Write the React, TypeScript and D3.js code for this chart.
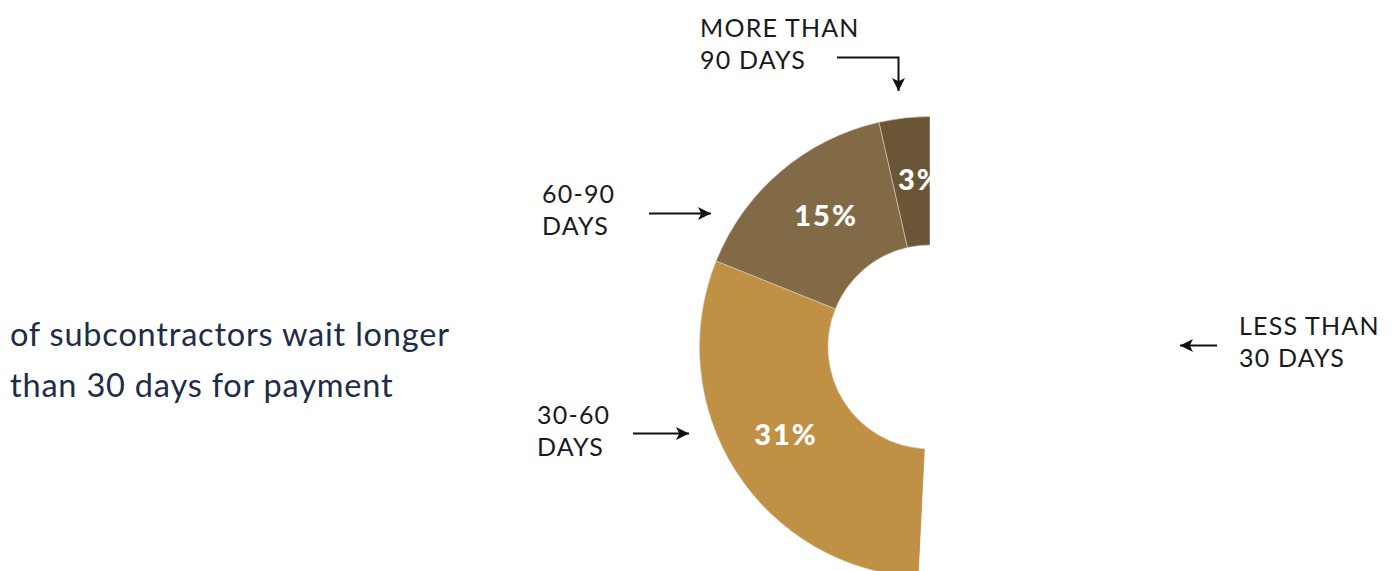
import React from "react";
import * as d3 from "d3";

// ---- data ----
const categories = ["MORE THAN 90 DAYS", "60-90 DAYS", "30-60 DAYS", "LESS THAN 30 DAYS"];
const categoryLines = [["MORE THAN", "90 DAYS"], ["60-90", "DAYS"], ["30-60", "DAYS"], ["LESS THAN", "30 DAYS"]];
// arc shares as drawn in the picture (in percent)
const shares = [3.56, 15.36, 30.3, 50.78];
const valueLabels = ["3%", "15%", "31%", ""];
const sideText = ["of subcontractors wait longer", "than 30 days for payment"];

// ---- styles / layout ----
const W = 1397;
const H = 571;
const colors = ["#6a5537", "#836a47", "#c09045", "#ffffff"];
const cx = 930;
const cy = 347;
const outerR = 230.5;
const innerR = 102;
const font = "Lato, 'Noto Sans', sans-serif";

// label layout: text origin, arrow path (start -> end)
const labelLayout = [
  { x: 700, y: 37, arrow: [[837, 57.5], [898.5, 57.5], [898.5, 91]] },
  { x: 542, y: 203, arrow: [[649, 213.5], [711, 213.5]] },
  { x: 537, y: 424, arrow: [[633, 433.5], [689, 433.5]] },
  { x: 1239, y: 335, arrow: [[1217, 345.5], [1180, 345.5]] },
];

export default function App() {
  const pie = d3
    .pie<number>()
    .sort(null)
    .value((d) => d)
    .startAngle(0)
    .endAngle(-2 * Math.PI);
  const arcs = pie(shares);
  const arc = d3.arc<d3.PieArcDatum<number>>().innerRadius(innerR).outerRadius(outerR);
  const line = d3.line();

  return (
    <div style={{ position: "fixed", left: 0, top: 0, width: W, height: H, background: "#fff" }}>
      <svg width={W} height={H} viewBox={`0 0 ${W} ${H}`} style={{ display: "block" }}>
        <defs>
          <clipPath id="leftHalf">
            <rect x={0} y={0} width={cx + 0.5} height={H} />
          </clipPath>
          <marker
            id="head"
            viewBox="0 0 10 10"
            refX={10}
            refY={5}
            markerWidth={17}
            markerHeight={13}
            markerUnits="userSpaceOnUse"
            orient="auto"
          >
            <path d="M0,0 L10,5 L0,10 L2.5,5 z" fill="#111" />
          </marker>
        </defs>

        <g clipPath="url(#leftHalf)">
          <g transform={`translate(${cx},${cy})`}>
            {arcs.map((a, i) => (
              <path
                key={categories[i]}
                d={arc(a) || ""}
                fill={colors[i]}
                stroke="#d9cfc0"
                strokeWidth={i < 3 ? 0.6 : 0}
              />
            ))}
            {arcs.map((a, i) => {
              const [lx, ly] = arc.centroid(a);
              return valueLabels[i] ? (
                <text
                  key={"v" + i}
                  x={lx + (i === 0 ? 9 : i === 1 ? 4 : -4)}
                  y={ly + (i === 1 ? -6 : -3)}
                  textAnchor="middle"
                  dominantBaseline="central"
                  fill="#ffffff"
                  fontFamily={font}
                  fontWeight={900}
                  fontSize={29}
                  letterSpacing={2}
                >
                  {valueLabels[i]}
                </text>
              ) : null;
            })}
          </g>
        </g>

        {categoryLines.map((lines, i) => {
          const L = labelLayout[i];
          return (
            <g key={categories[i]}>
              <text x={L.x} y={L.y} fontFamily={font} fontSize={25} fill="#1a1a1a" letterSpacing={1.2}>
                {lines.map((t, j) => (
                  <tspan key={j} x={L.x} dy={j === 0 ? 0 : 32}>
                    {t}
                  </tspan>
                ))}
              </text>
              <path
                d={line(L.arrow as [number, number][]) || ""}
                fill="none"
                stroke="#111"
                strokeWidth={2}
                markerEnd="url(#head)"
              />
            </g>
          );
        })}

        <text x={10} y={346} fontFamily={font} fontSize={32.5} fill="#1e2c48" letterSpacing={0.8}>
          {sideText.map((t, j) => (
            <tspan key={j} x={10} dy={j === 0 ? 0 : 50.5}>
              {t}
            </tspan>
          ))}
        </text>
      </svg>
    </div>
  );
}
